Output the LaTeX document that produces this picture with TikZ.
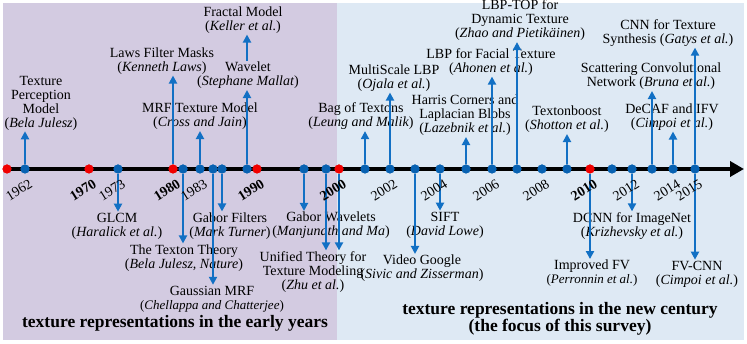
\documentclass[tikz,border=0pt]{standalone}
\usepackage{fontspec}
\setmainfont{Liberation Serif}
\usetikzlibrary{arrows.meta}
\definecolor{bgleft}{RGB}{211,203,225}
\definecolor{bgright}{RGB}{222,233,244}
\definecolor{tlblue}{RGB}{18,112,196}
\definecolor{dotblue}{RGB}{8,98,178}
\definecolor{tlred}{RGB}{240,0,0}
\begin{document}
\begin{tikzpicture}[x=1pt,y=-1pt,
 lab/.style={align=center,inner sep=1pt,font=\fontsize{14}{14}\selectfont},
 yr/.style={rotate=32,inner sep=0pt,font=\fontsize{14}{14}\selectfont},
 yrb/.style={rotate=32,inner sep=0pt,font=\fontsize{14}{14}\selectfont\bfseries},
 bdot/.style={circle,fill=dotblue,inner sep=0pt,minimum size=9pt},
 rdot/.style={circle,fill=tlred,inner sep=0pt,minimum size=9pt},
 conn/.style={draw=tlblue,line width=2pt,-{Triangle[length=8pt,width=8pt]}},
 era/.style={align=center,inner sep=0pt,font=\fontsize{17.5}{17}\selectfont\bfseries}]
\path[use as bounding box] (0,0) rectangle (747,344);
% backgrounds
\fill[bgleft] (3,3) rectangle (337,340);
\fill[bgright] (337,3) rectangle (744,340);
% timeline
\coordinate (tlstart) at (3,169);
\coordinate (tlend) at (744,169);
\draw[line width=4.5pt,-{Triangle[length=14pt,width=15pt]}] (tlstart) -- (tlend);
% labels above
\node[lab] (perc) at (41,103) {Texture\\Perception\\Model\\(\textit{Bela Julesz})};
\node[lab] (laws) at (162,61) {Laws Filter Masks\\(\textit{Kenneth Laws})};
\node[lab] (mrf) at (200,116.5) {MRF Texture Model\\(\textit{Cross and Jain})};
\node[lab] (wavelet) at (248,75.5) {Wavelet\\(\textit{Stephane Mallat})};
\node[lab] (fractal) at (243,20) {Fractal Model\\(\textit{Keller et al.})};
\node[lab] (bag) at (361,116.5) {Bag of Textons\\(\textit{Leung and Malik})};
\node[lab] (mslbp) at (394,78) {MultiScale LBP\\(\textit{Ojala et al.})};
\node[lab] (harris) at (465,115.5) {Harris Corners and\\Laplacian Blobs\\(\textit{Lazebnik et al.})};
\node[lab] (facial) at (491,62) {LBP for Facial Texture\\(\textit{Ahonen et al.})};
\node[lab] (lbptop) at (520,20.5) {LBP-TOP for\\Dynamic Texture\\(\textit{Zhao and Pietikäinen})};
\node[lab] (textonb) at (567,119.5) {Textonboost\\(\textit{Shotton et al.})};
\node[lab] (scat) at (651,76.5) {Scattering Convolutional\\Network (\textit{Bruna et al.})};
\node[lab] (decaf) at (672,117) {DeCAF and IFV\\(\textit{Cimpoi et al.})};
\node[lab] (cnnsyn) at (668,33) {CNN for Texture\\Synthesis (\textit{Gatys et al.})};
% labels below
\node[lab] (glcm) at (117,226) {GLCM\\(\textit{Haralick et al.})};
\node[lab] (textonth) at (184,258) {The Texton Theory\\(\textit{Bela Julesz, Nature})};
\node[lab] (gauss) at (212,299) {Gaussian MRF\\{\fontsize{13}{13}\selectfont(\textit{Chellappa and Chatterjee})}};
\node[lab] (gabor) at (230,226) {Gabor Filters\\(\textit{Mark Turner})};
\node[lab] (gaborw) at (331,225.5) {Gabor Wavelets\\(\textit{Manjunath and Ma})};
\node[lab] (unified) at (313,272) {Unified Theory for\\Texture Modeling\\(\textit{Zhu et al.})};
\node[lab] (video) at (422,268.5) {Video Google\\(\textit{Sivic and Zisserman})};
\node[lab] (sift) at (445,225) {SIFT\\(\textit{David Lowe})};
\node[lab] (impfv) at (592,273.5) {Improved FV\\{\fontsize{13}{13}\selectfont(\textit{Perronnin et al.})}};
\node[lab] (dcnn) at (632,226) {DCNN for ImageNet\\(\textit{Krizhevsky et al.})};
\node[lab] (fvcnn) at (697,274) {FV-CNN\\(\textit{Cimpoi et al.})};
% dots
\foreach \x in {7,89,173,257,339,590} \node[rdot] (d\x) at (\x,169) {};
\foreach \x in {25,118,183,200,213,222,247,304,326,365,390,415,440,466,492,517,542,567,612,632,652,673,695} \node[bdot] (d\x) at (\x,169) {};
% connectors up
\draw[conn] (d25) -- (d25 |- perc.south);
\draw[conn] (d173) -- (d173 |- laws.south);
\draw[conn] (d200) -- (d200 |- mrf.south);
\draw[conn] (d247) -- (d247 |- wavelet.south);
\draw[conn] (d247 |- wavelet.north) -- (d247 |- fractal.south);
\draw[conn] (d365) -- (d365 |- bag.south);
\draw[conn] (d390) -- (d390 |- mslbp.south);
\draw[conn] (d466) -- (d466 |- harris.south);
\draw[conn] (d492) -- (d492 |- facial.south);
\draw[conn] (d517) -- (d517 |- lbptop.south);
\draw[conn] (d567) -- (d567 |- textonb.south);
\draw[conn] (d652) -- (d652 |- scat.south);
\draw[conn] (d673) -- (d673 |- decaf.south);
\draw[conn] (d695) -- (d695 |- cnnsyn.south);
% connectors down
\draw[conn] (d118) -- (d118 |- glcm.north);
\draw[conn] (d183) -- (d183 |- textonth.north);
\draw[conn] (d213) -- (d213 |- gauss.north);
\draw[conn] (d222) -- (d222 |- gabor.north);
\draw[conn] (d304) -- (d304 |- gaborw.north);
\draw[conn] (d326) -- (d326 |- unified.north);
\draw[conn] (d339) -- (d339 |- unified.north);
\draw[conn] (d415) -- (d415 |- video.north);
\draw[conn] (d440) -- (d440 |- sift.north);
\draw[conn] (d590) -- (d590 |- impfv.north);
\draw[conn] (d632) -- (d632 |- dcnn.north);
\draw[conn] (d695) -- (d695 |- fvcnn.north);
% redraw dots on top
\foreach \x in {7,89,173,257,339,590} \fill[tlred] (d\x) circle (4.5pt);
\foreach \x in {25,118,183,200,213,222,247,304,326,365,390,415,440,466,492,517,542,567,612,632,652,673,695} \fill[dotblue] (d\x) circle (4.5pt);
% years
\foreach \x/\yr in {25/1962,118/1973,200/1983,390/2002,440/2004,492/2006,542/2008,632/2012,673/2014,695/2015}
  \node[yr] (y\yr) at ({\x-6},190) {\yr};
\foreach \x/\yr in {89/1970,173/1980,257/1990,339/2000,590/2010}
  \node[yrb] (y\yr) at ({\x-6},190) {\yr};
% era captions
\node[era] (early) at (175,323) {texture representations in the early years};
\node[era] (newc) at (560,318.5) {texture representations in the new century\\(the focus of this survey)};
\end{tikzpicture}
\end{document}
